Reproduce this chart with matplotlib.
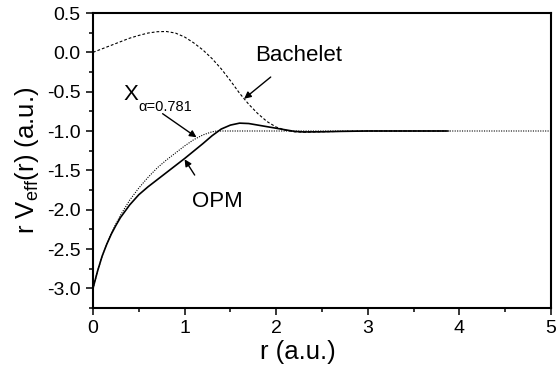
import matplotlib
matplotlib.use("Agg")
import matplotlib.pyplot as plt
import numpy as np
from matplotlib.ticker import MultipleLocator, FormatStrFormatter

plt.rcParams['font.family'] = ['Liberation Sans', 'DejaVu Sans']
plt.rcParams['mathtext.fontset'] = 'custom'
plt.rcParams['mathtext.rm'] = 'Liberation Sans'
plt.rcParams['mathtext.it'] = 'Liberation Sans:italic'
plt.rcParams['axes.unicode_minus'] = False

# Bachelet pseudopotential (dashed)
r_bach = [0.0, 0.1, 0.2, 0.3, 0.4, 0.5, 0.6, 0.7, 0.8, 0.9, 1.0, 1.1, 1.2, 1.3,
          1.4, 1.5, 1.6, 1.7, 1.8, 1.9, 2.0, 2.1, 2.2, 2.3, 2.5, 2.7, 3.0, 3.5, 3.9]
v_bach = [0.0, 0.045, 0.09, 0.135, 0.18, 0.215, 0.245, 0.262, 0.265, 0.245, 0.195,
          0.12, 0.03, -0.08, -0.21, -0.36, -0.52, -0.66, -0.78, -0.88, -0.95,
          -0.99, -1.01, -1.015, -1.01, -1.005, -1.0, -1.0, -1.0]

# OPM (solid)
r_opm = [0.0, 0.05, 0.1, 0.15, 0.2, 0.25, 0.3, 0.4, 0.5, 0.6, 0.7, 0.8, 0.9, 1.0,
         1.1, 1.2, 1.3, 1.4, 1.5, 1.6, 1.7, 1.8, 1.9, 2.0, 2.1, 2.2, 2.3, 2.5,
         2.7, 3.0, 3.86]
v_opm = [-3.0, -2.78, -2.59, -2.44, -2.31, -2.20, -2.10, -1.94, -1.81, -1.71,
         -1.62, -1.53, -1.44, -1.35, -1.255, -1.16, -1.06, -0.975, -0.925, -0.90,
         -0.905, -0.925, -0.945, -0.965, -0.985, -1.005, -1.012, -1.01, -1.005,
         -1.0, -1.0]

# X-alpha (dotted)
r_xa = [0.0, 0.05, 0.1, 0.15, 0.2, 0.25, 0.3, 0.4, 0.5, 0.6, 0.7, 0.8, 0.9, 1.0,
        1.1, 1.2, 1.3, 1.35, 5.0]
v_xa = [-3.0, -2.78, -2.59, -2.44, -2.30, -2.18, -2.07, -1.88, -1.725, -1.59,
        -1.47, -1.37, -1.28, -1.19, -1.11, -1.05, -1.01, -1.0, -1.0]

fig = plt.figure(figsize=(5.57, 3.70), dpi=100)
ax = fig.add_axes([93/557, 62/370, 458/557, 295/370])

ax.plot(r_xa, v_xa, color='k', lw=0.8, linestyle=(0, (1, 1.2)))
ax.plot(r_bach, v_bach, color='k', lw=0.8, linestyle=(0, (2.5, 1.8)))
ax.plot(r_opm, v_opm, color='k', lw=1.2)

ax.set_xlim(0, 5)
ax.set_ylim(-3.25, 0.5)
ax.xaxis.set_major_locator(MultipleLocator(1))
ax.xaxis.set_minor_locator(MultipleLocator(0.5))
ax.yaxis.set_major_locator(MultipleLocator(0.5))
ax.yaxis.set_minor_locator(MultipleLocator(0.25))
ax.yaxis.set_major_formatter(FormatStrFormatter('%.1f'))
ax.xaxis.set_major_formatter(FormatStrFormatter('%d'))
ax.tick_params(which='both', direction='out', top=False, right=False, width=1.1)
ax.tick_params(which='major', length=4.8, labelsize=14, pad=4)
ax.tick_params(which='minor', length=2.9)
for s in ax.spines.values():
    s.set_linewidth(1.5)

ax.set_xlabel('r (a.u.)', fontsize=18.5)
ax.xaxis.set_label_coords(0.448, -0.149)
ax.xaxis.label.set_va('center')
ax.set_ylabel(r'r V$_{\mathregular{eff}}$(r) (a.u.)', fontsize=18.5)
ax.yaxis.set_label_coords(-0.144, 0.5)
ax.yaxis.label.set_va('center')

arrow = dict(arrowstyle='-|>', color='k', lw=1.0, mutation_scale=10,
             shrinkA=0, shrinkB=0)
ax.annotate('', xy=(1.65, -0.59), xytext=(1.94, -0.314), arrowprops=arrow)
ax.annotate('', xy=(1.13, -1.08), xytext=(0.76, -0.78), arrowprops=arrow)
ax.annotate('', xy=(1.00, -1.36), xytext=(1.11, -1.56), arrowprops=arrow)

ax.text(2.24, -0.038, 'Bachelet', fontsize=16, ha='center', va='center')
ax.text(1.36, -1.90, 'OPM', fontsize=16, ha='center', va='center')
ax.text(0.33, -0.54, 'X', fontsize=16, ha='left', va='center')
ax.text(0.49, -0.69, 'α=0.781', fontsize=10.5, ha='left', va='center')

fig.savefig('out.png', dpi=100)
